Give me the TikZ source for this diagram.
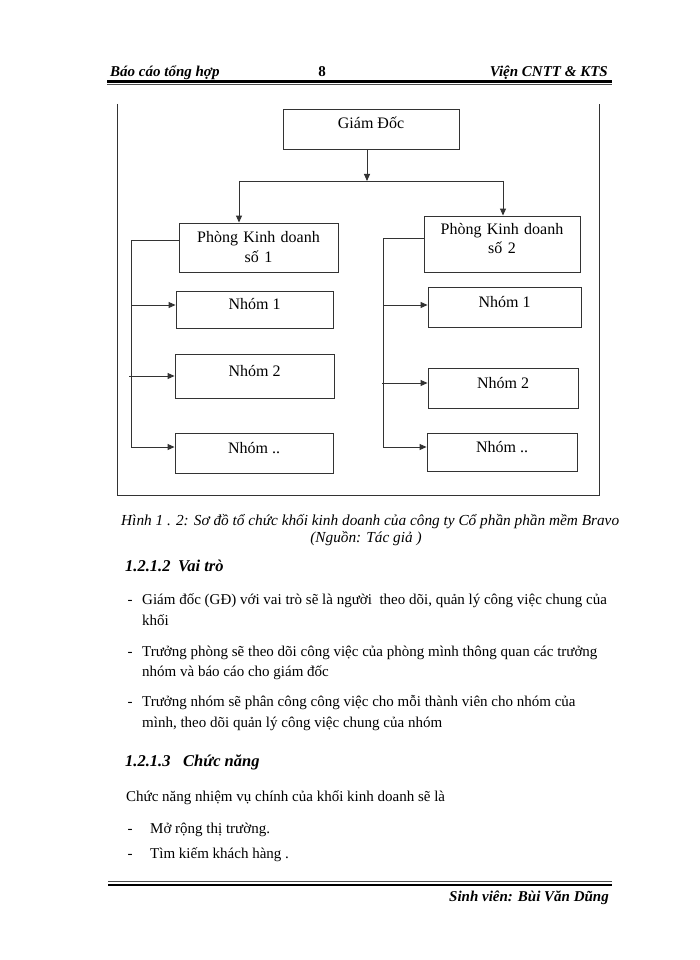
\documentclass[tikz,border=0pt]{standalone}
\usepackage{fontspec}
\setmainfont{Liberation Serif}
\usetikzlibrary{arrows.meta}
\newcommand\boxfont{\fontsize{16}{19.5}\selectfont}
\newcommand\bodyfont{\fontsize{15}{18}\selectfont}
\newcommand\capfont{\fontsize{15.3}{17}\selectfont\itshape}
\newcommand\headfont{\fontsize{15}{18}\selectfont\bfseries\itshape}
\newcommand\secfont{\fontsize{16.5}{19}\selectfont\bfseries\itshape}
\definecolor{linec}{gray}{0.2}
\tikzset{
  boxn/.style={draw=linec, line width=0.9pt, font=\boxfont, inner sep=0pt, text height=6pt, text depth=6pt},
  pkd/.style={draw=linec, line width=0.9pt, font=\boxfont, inner sep=0pt, text width=150pt, align=center, text height=6pt},
  conn/.style={draw=linec, line width=0.9pt},
  arr/.style={conn, -{Triangle[length=7pt,width=6pt]}},
  txt/.style={anchor=base west, inner sep=0pt},
  frame/.style={draw=linec, line width=1pt},
  rulethick/.style={draw=black, line width=2.6pt},
  rulethin/.style={draw=black!70, line width=0.8pt}
}
\begin{document}
\begin{tikzpicture}[x=1pt,y=-1pt]
\useasboundingbox (0,0) rectangle (700,960);
\fill[white] (0,0) rectangle (700,960);

% header
\node[txt, font=\headfont] (h1) at (110,77) {Báo cáo tổng hợp};
\node[anchor=base, inner sep=0pt, font=\headfont\upshape] (h2) at (322,77) {8};
\node[anchor=base east, inner sep=0pt, font=\headfont] (h3) at (608,77) {Viện CNTT \& KTS};
\draw[rulethick] (107,81.5) -- (612,81.5);
\draw[rulethin] (107,84.6) -- (612,84.6);

% frame
\draw[frame] (117,104) -- (117,495) -- (599,495) -- (599,104);

% boxes
\node[boxn, minimum width=176pt, minimum height=40pt] (gd) at (371,129) {Giám Đốc};
\node[pkd, minimum width=159pt, minimum height=49pt, text depth=15.6pt] (p1) at (258.5,247.5) {Phòng Kinh doanh\\ số 1};
\node[pkd, minimum width=156pt, minimum height=56pt, text depth=25.4pt] (p2) at (502,244) {Phòng Kinh doanh\\ số 2};

\node[boxn, minimum width=157pt, minimum height=37pt] (a1) at (254.5,309.5) {Nhóm 1};
\node[boxn, minimum width=159pt, minimum height=44pt] (a2) at (254.5,376) {Nhóm 2};
\node[boxn, minimum width=158pt, minimum height=40pt] (a3) at (254,453) {Nhóm ..};

\node[boxn, minimum width=153pt, minimum height=40pt] (b1) at (504.5,307) {Nhóm 1};
\node[boxn, minimum width=150pt, minimum height=40pt] (b2) at (503,388) {Nhóm 2};
\node[boxn, minimum width=150pt, minimum height=38pt] (b3) at (502,452) {Nhóm ..};

% connectors top
\coordinate (j) at (367,181);
\coordinate (jl) at (239,181);
\coordinate (jr) at (503,181);
\draw[arr] (gd.south -| j) -- (j);
\draw[conn] (jl) -- (jr);
\draw[arr] (jl) -- (jl |- p1.north);
\draw[arr] (jr) -- (jr |- p2.north);

% left bracket
\coordinate (lt) at (131,240);
\coordinate (lb) at (131,447);
\coordinate (l1) at (131,305);
\coordinate (l2) at (129,376);
\draw[conn] (p1.west |- lt) -- (lt) -- (lb);
\draw[arr] (l1) -- (l1 -| a1.west);
\draw[arr] (l2) -- (l2 -| a2.west);
\draw[arr] (lb) -- (lb -| a3.west);

% right bracket
\coordinate (rt) at (383,238);
\coordinate (rb) at (383,447);
\coordinate (r1) at (383,305);
\coordinate (r2) at (382,383);
\draw[conn] (p2.west |- rt) -- (rt) -- (rb);
\draw[arr] (r1) -- (r1 -| b1.west);
\draw[arr] (r2) -- (r2 -| b2.west);
\draw[arr] (rb) -- (rb -| b3.west);

% caption
\node[txt, font=\capfont] (c1) at (121,525) {Hình 1 . 2: Sơ đồ tổ chức khối kinh doanh của công ty Cổ phần phần mềm Bravo};
\node[anchor=base, inner sep=0pt, font=\capfont] (c2) at (366,542) {(Nguồn: Tác giả )};

% section 1.2.1.2
\node[txt, font=\secfont] (s1) at (125,571.5) {1.2.1.2};
\node[txt, font=\secfont] (s1t) at (178,571.5) {Vai trò};

\node[txt, font=\bodyfont] (d1) at (127.5,604) {-};
\node[txt, font=\bodyfont] (t1) at (142,604) {Giám đốc (GĐ) với vai trò sẽ là người \ theo dõi, quản lý công việc chung của};
\node[txt, font=\bodyfont] (t2) at (142,625) {khối};
\node[txt, font=\bodyfont] (d2) at (127.5,656) {-};
\node[txt, font=\bodyfont] (t3) at (142,656) {Trưởng phòng sẽ theo dõi công việc của phòng mình thông quan các trưởng};
\node[txt, font=\bodyfont] (t4) at (142,676.5) {nhóm và báo cáo cho giám đốc};
\node[txt, font=\bodyfont] (d3) at (127.5,706) {-};
\node[txt, font=\bodyfont] (t5) at (142,706) {Trưởng nhóm sẽ phân công công việc cho mỗi thành viên cho nhóm của};
\node[txt, font=\bodyfont] (t6) at (142,727) {mình, theo dõi quản lý công việc chung của nhóm};

% section 1.2.1.3
\node[txt, font=\secfont] (s2) at (125,766) {1.2.1.3};
\node[txt, font=\secfont] (s2t) at (183,766) {Chức năng};
\node[txt, font=\bodyfont] (t7) at (126,801) {Chức năng nhiệm vụ chính của khối kinh doanh sẽ là};
\node[txt, font=\bodyfont] (d4) at (127.5,833) {-};
\node[txt, font=\bodyfont] (t8) at (150,833) {Mở rộng thị trường.};
\node[txt, font=\bodyfont] (d5) at (127.5,858) {-};
\node[txt, font=\bodyfont] (t9) at (150,858) {Tìm kiếm khách hàng .};

% footer
\draw[rulethin] (108,881.8) -- (612,881.8);
\draw[rulethick] (108,885) -- (612,885);
\node[anchor=base east, inner sep=0pt, font=\headfont] (f1) at (609,901) {Sinh viên: Bùi Văn Dũng};
\end{tikzpicture}
\end{document}
